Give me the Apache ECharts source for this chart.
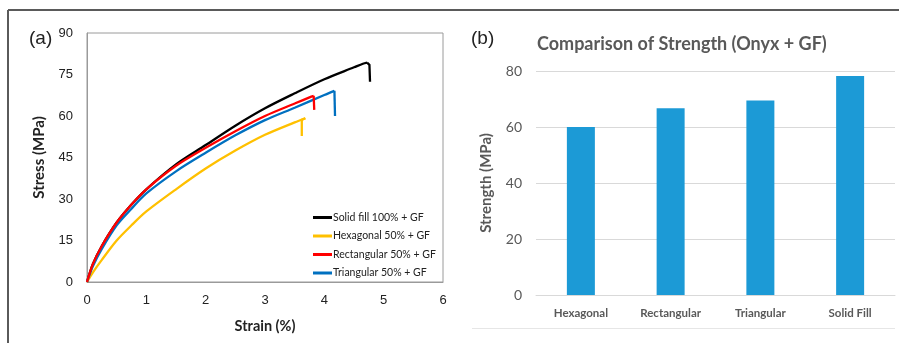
<!DOCTYPE html>
<html>
<head>
<meta charset="utf-8">
<script src="https://cdn.jsdelivr.net/npm/echarts@6/dist/echarts.min.js"></script>
<style>html,body{margin:0;padding:0;background:#fff}#c{width:899px;height:343px}</style>
</head>
<body>
<div id="c"></div>
<script>
// Panel (a): stress-strain curves (loading part)
const solidStrain = [0, 0.1, 0.25, 0.5, 0.75, 1, 1.5, 2, 2.5, 3, 3.5, 4, 4.5, 4.65, 4.72];
const solidStress = [0, 6.5, 13, 21.5, 28, 33.5, 42.5, 49.5, 56.5, 62.8, 68.2, 73.3, 77.6, 78.9, 79.3];
const hexStrain = [0, 0.1, 0.25, 0.5, 0.75, 1, 1.5, 2, 2.5, 3, 3.5, 3.68];
const hexStress = [0, 3.5, 8, 15, 20.5, 25.5, 33.5, 41, 47.5, 53.2, 57.7, 59.2];
const rectStrain = [0, 0.1, 0.25, 0.5, 0.75, 1, 1.5, 2, 2.5, 3, 3.5, 3.78, 3.82];
const rectStress = [0, 6.5, 13, 21.5, 28, 33.5, 42, 48.5, 54.5, 60, 64.5, 67, 67.3];
const triStrain = [0, 0.1, 0.25, 0.5, 0.75, 1, 1.5, 2, 2.5, 3, 3.5, 4, 4.17];
const triStress = [0, 5.8, 12, 20.5, 26.5, 32, 40, 46.7, 53, 58.5, 63, 67.6, 69.1];
// failure drops (from peak downward)
const solidDropStrain = [4.72, 4.76, 4.77];
const solidDropStress = [79.3, 78.5, 72.4];
const hexDropStrain = [3.68, 3.62, 3.62];
const hexDropStress = [59.2, 58.6, 52.8];
const rectDropStrain = [3.82, 3.83];
const rectDropStress = [67.3, 62.2];
const triDropStrain = [4.17, 4.18];
const triDropStress = [69.1, 60];
const curveNames = ['Solid fill 100% + GF', 'Hexagonal 50% + GF', 'Rectangular 50% + GF', 'Triangular 50% + GF'];

// Panel (b): strength comparison
const barCategories = ['Hexagonal', 'Rectangular', 'Triangular', 'Solid Fill'];
const barValues = [60, 66.7, 69.5, 78.2];

const pair = (xs, ys) => xs.map((x, i) => [x, ys[i]]);
const colors = ['#000000', '#FFC000', '#FF0000', '#0070C0'];
const zs = [2, 2, 4, 3];
const curves = [pair(solidStrain, solidStress), pair(hexStrain, hexStress), pair(rectStrain, rectStress), pair(triStrain, triStress)];
const drops = [pair(solidDropStrain, solidDropStress), pair(hexDropStrain, hexDropStress), pair(rectDropStrain, rectDropStress), pair(triDropStrain, triDropStress)];

const chart = echarts.init(document.getElementById('c'));
const gray = '#595959';
const lineSeries = curves.map((d, i) => ({
  name: curveNames[i], type: 'line', xAxisIndex: 0, yAxisIndex: 0,
  data: d, showSymbol: false, symbol: 'none', smooth: 0.3,
  lineStyle: { color: colors[i], width: 2.3 }, itemStyle: { color: colors[i] }, z: zs[i]
}));
const dropSeries = drops.map((d, i) => ({
  type: 'line', xAxisIndex: 0, yAxisIndex: 0,
  data: d, showSymbol: false, symbol: 'none', smooth: false,
  lineStyle: { color: colors[i], width: 2.3, join: 'round' }, z: zs[i]
}));
chart.setOption({
  animation: false,
  backgroundColor: '#fff',
  textStyle: { fontFamily: 'Liberation Sans' },
  title: [
    { text: '(a)', left: 24, top: 24, textStyle: { fontFamily: 'Liberation Sans', fontSize: 19, fontWeight: 'normal', color: '#222' } },
    { text: '(b)', left: 466, top: 24, textStyle: { fontFamily: 'Liberation Sans', fontSize: 19, fontWeight: 'normal', color: '#222' } },
    { text: 'Comparison of Strength (Onyx + GF)', left: 532, top: 30, textStyle: { fontFamily: 'Lato', fontSize: 18, fontWeight: 'bold', color: gray } }
  ],
  legend: {
    orient: 'vertical', left: 308, top: 207, itemGap: 7.5,
    itemWidth: 19, itemHeight: 3, icon: 'rect',
    data: curveNames,
    textStyle: { fontFamily: 'Lato', fontSize: 10.5, color: '#222', padding: [0, 0, 0, -4] }
  },
  grid: [
    { left: 87, top: 33, width: 356, height: 249, show: true, borderColor: '#9a9a9a', borderWidth: 1, backgroundColor: 'transparent' },
    { left: 536, top: 71, width: 359, height: 224 }
  ],
  xAxis: [
    { gridIndex: 0, type: 'value', min: 0, max: 6, interval: 1,
      name: 'Strain (%)', nameLocation: 'middle', nameGap: 37,
      nameTextStyle: { fontFamily: 'Lato', fontWeight: 'bold', fontSize: 14.5, color: '#222' },
      axisLine: { lineStyle: { color: '#9a9a9a' } }, axisTick: { show: false }, splitLine: { show: false },
      axisLabel: { fontSize: 13, color: '#222', margin: 12 } },
    { gridIndex: 1, type: 'category', data: barCategories,
      axisLine: { lineStyle: { color: '#D9D9D9' } }, axisTick: { show: false },
      axisLabel: { fontFamily: 'Lato', fontWeight: 'bold', fontSize: 11.5, color: gray, margin: 12 } }
  ],
  yAxis: [
    { gridIndex: 0, type: 'value', min: 0, max: 90, interval: 15,
      name: 'Stress (MPa)', nameLocation: 'middle', nameGap: 40,
      nameTextStyle: { fontFamily: 'Lato', fontWeight: 'bold', fontSize: 15, color: '#222' },
      axisLine: { show: true, lineStyle: { color: '#9a9a9a' } }, axisTick: { show: false }, splitLine: { show: false },
      axisLabel: { fontSize: 13, color: '#222', margin: 14 } },
    { gridIndex: 1, type: 'value', min: 0, max: 80, interval: 20,
      name: 'Strength (MPa)', nameLocation: 'middle', nameGap: 42,
      nameTextStyle: { fontFamily: 'Lato', fontWeight: 'bold', fontSize: 15, color: gray },
      axisLine: { show: false }, axisTick: { show: false },
      splitLine: { lineStyle: { color: '#D9D9D9' } },
      axisLabel: { fontFamily: 'Lato', fontSize: 14, color: gray, margin: 14 } }
  ],
  series: lineSeries.concat(dropSeries).concat([{
    type: 'bar', xAxisIndex: 1, yAxisIndex: 1, data: barValues, barWidth: 28,
    itemStyle: { color: '#1C9AD6' }
  }]),
  graphic: [
    { type: 'line', shape: { x1: 8, y1: 10, x2: 899, y2: 10 }, style: { stroke: '#5a5a5a', lineWidth: 2 } },
    { type: 'line', shape: { x1: 8, y1: 10, x2: 8, y2: 343 }, style: { stroke: '#5a5a5a', lineWidth: 2 } },
    { type: 'line', shape: { x1: 472, y1: 328.5, x2: 895, y2: 328.5 }, style: { stroke: '#E6E6E6', lineWidth: 1 } }
  ]
});
</script>
</body>
</html>
